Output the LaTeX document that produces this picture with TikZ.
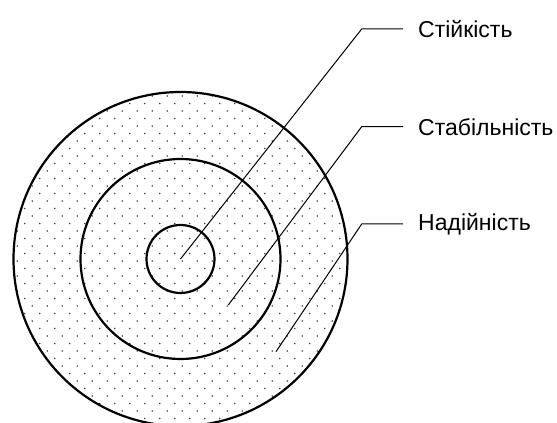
\documentclass[tikz,border=0pt]{standalone}
\usepackage{fontspec}
\setmainfont{Liberation Sans}
\usepackage{tikz}
\usetikzlibrary{positioning,calc}
\definecolor{DotGray}{RGB}{70,70,70}

\begin{document}
\begin{tikzpicture}[
  x=1pt,y=1pt,
  ring/.style={draw,line width=2.2pt},
  leader/.style={draw,line width=1pt},
  lbl/.style={
    anchor=west,inner xsep=15pt,inner ysep=0pt,
    font=\fontsize{23}{27}\selectfont
  }
]
  \useasboundingbox (0,0) rectangle (557,423);
  \coordinate (centre) at (180.5,164);
  % dotted fill
  \begin{scope}
    \clip (centre) circle (167);
    \foreach \i in {-9,...,14}
      \foreach \j in {-15,...,9} {
        \fill[DotGray] ({137.3+15*\i},{207+15*\j}) circle (0.85);
        \fill[DotGray] ({144.8+15*\i},{199.5+15*\j}) circle (0.85);
      }
  \end{scope}
  \draw[ring] (centre) circle (167);
  \draw[ring] (centre) circle (100);
  \draw[ring] (centre) circle (34);
  % labels
  \node[lbl] (stiik) at (403,394) {Стійкість};
  \node[lbl] (stab) at (403,296.3) {Стабільність};
  \node[lbl] (nadii) at (403,199) {Надійність};
  \coordinate (s1) at (centre);
  \coordinate (s2) at (228.3,118);
  \coordinate (s3) at (276,71.3);
  \coordinate (k1) at (361.7,394);
  \coordinate (k2) at (361.7,296.3);
  \coordinate (k3) at (361.7,199);
  \draw[leader] (s1) -- (k1) -- (stiik.west);
  \draw[leader] (s2) -- (k2) -- (stab.west);
  \draw[leader] (s3) -- (k3) -- (nadii.west);
\end{tikzpicture}
\end{document}
